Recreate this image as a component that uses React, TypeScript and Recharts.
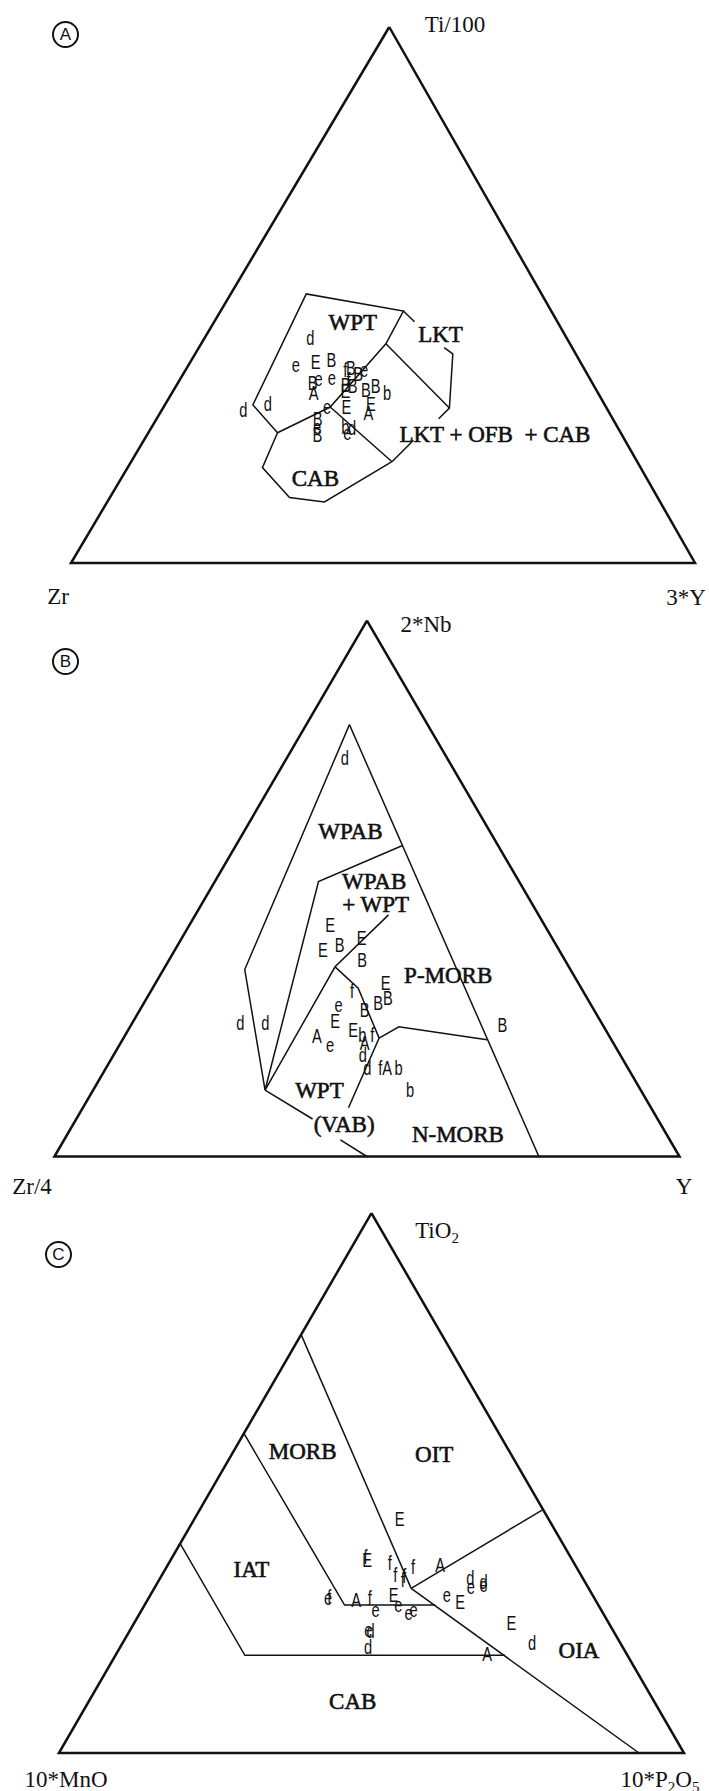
import { ScatterChart, Scatter, XAxis, YAxis } from 'recharts';

const PAGE_W = 709;

// ternary points are [top, right] in percent (left = 100 - top - right)
type Tern = [number, number];
type Sample = [string, number, number];

const OUTLINE: Tern[] = [[100, 0], [0, 0], [0, 100], [100, 0]];

// (A) Ti/100 - Zr - 3*Y
const A_FIELDS: Tern[][] = [
  [[24.3, 20.7], [29.5, 14.1], [50.2, 12.1], [47.0, 29.3], [40.9, 29.6], [29.1, 26.7], [24.3, 20.7]],
  [[40.9, 29.6], [28.9, 45.9]],
  [[29.1, 26.7], [18.9, 41.8]],
  [[24.3, 20.7], [17.8, 21.6], [12.2, 28.8], [11.4, 34.8], [18.9, 41.8]],
  [[47.0, 29.3], [45.0, 32.1]],
  [[40.2, 39.3], [39.0, 41.3], [28.9, 45.9], [26.9, 45.2]],
  [[18.9, 41.8], [22.9, 43.2]],
];
const A_LABELS: Sample[] = [
  ['WPT', 44.8, 22.3],
  ['LKT', 42.6, 37.5],
  ['LKT + OFB  + CAB', 24.0, 55.7],
  ['CAB', 15.8, 31.1],
];
const A_SAMPLES: Sample[] = [
  ['d', 41.9, 17.0], ['e', 36.9, 17.2], ['E', 37.5, 20.1], ['B', 37.9, 22.4],
  ['e', 34.5, 24.2], ['B', 33.6, 21.6], ['A', 31.7, 22.7], ['e', 34.3, 22.2],
  ['f', 36.0, 25.6], ['B', 36.4, 26.3], ['e', 36.0, 28.6], ['B', 35.3, 28.0],
  ['B', 33.2, 27.1], ['E', 32.1, 27.6], ['B', 33.0, 28.3], ['f', 34.1, 27.1],
  ['B', 32.3, 30.8], ['B', 33.0, 32.0], ['b', 31.7, 34.5], ['E', 29.1, 29.3],
  ['A', 28.0, 33.4], ['E', 29.7, 32.9], ['d', 28.5, 13.1], ['d', 29.7, 16.4],
  ['e', 29.1, 26.2], ['B', 26.9, 25.8], ['e', 25.4, 26.5], ['B', 23.9, 27.3],
  ['b', 25.4, 31.0], ['d', 25.2, 32.2], ['e', 24.3, 31.9],
];

// (B) 2*Nb - Zr/4 - Y
const B_FIELDS: Tern[][] = [
  [[80.6, 6.9], [34.9, 13.0], [12.4, 27.5]],
  [[80.6, 6.9], [0, 77.5]],
  [[58.0, 26.6], [51.3, 16.6], [12.4, 27.5]],
  [[45.1, 30.9], [35.4, 27.2], [12.4, 27.5]],
  [[35.4, 27.2], [31.4, 32.9], [22.1, 40.9], [9.1, 42.5]],
  [[22.1, 40.9], [24.2, 43.0], [21.8, 58.3]],
  [[12.4, 27.5], [7.0, 37.8]],
  [[3.1, 44.2], [0, 50.0]],
];
const B_LABELS: Sample[] = [
  ['WPAB', 60.7, 17.0],
  ['WPAB', 51.3, 25.5],
  ['+ WPT', 47.0, 27.9],
  ['P-MORB', 33.8, 46.1],
  ['WPT', 12.4, 36.2],
  ['(VAB)', 5.9, 43.4],
  ['N-MORB', 4.1, 62.5],
];
const B_SAMPLES: Sample[] = [
  ['d', 74.3, 9.3], ['E', 43.2, 22.5], ['E', 38.5, 23.7], ['B', 39.5, 25.9],
  ['E', 40.7, 28.8], ['B', 36.7, 30.9], ['E', 32.4, 36.8], ['B', 29.5, 38.6],
  ['B', 28.6, 37.5], ['B', 27.3, 36.0], ['f', 30.8, 32.2], ['e', 28.3, 31.3],
  ['E', 25.2, 32.3], ['d', 24.9, 17.3], ['d', 24.9, 21.3], ['E', 23.6, 36.0],
  ['b', 22.7, 37.9], ['f', 22.7, 39.5], ['A', 21.1, 39.1], ['A', 22.4, 30.8],
  ['e', 20.8, 33.7], ['d', 18.9, 39.9], ['d', 16.5, 41.8], ['f', 16.5, 43.9],
  ['A', 16.5, 45.0], ['b', 16.5, 46.8], ['b', 12.4, 50.7], ['B', 24.5, 59.4],
];

// (C) TiO2 - 10*MnO - 10*P2O5
const C_FIELDS: Tern[][] = [
  [[77.5, 0], [30.5, 41.1]],
  [[59.2, 0], [27.4, 32.0], [27.4, 46.5]],
  [[38.8, 0], [18.1, 20.7], [18.1, 62.3]],
  [[30.5, 41.1], [0, 92.8]],
  [[30.5, 41.1], [45.0, 54.8]],
];
const C_LABELS: Sample[] = [
  ['MORB', 55.8, 11.1],
  ['OIT', 55.3, 32.4],
  ['IAT', 34.0, 13.8],
  ['CAB', 9.6, 42.2],
  ['OIA', 19.0, 73.7],
];
const C_SAMPLES: Sample[] = [
  ['E', 43.4, 32.8], ['E', 35.8, 31.4], ['f', 36.3, 30.9], ['f', 35.1, 35.4],
  ['f', 33.0, 37.3], ['f', 32.0, 39.0], ['f', 32.7, 38.9], ['f', 34.5, 39.4],
  ['A', 34.8, 43.6], ['d', 32.4, 49.6], ['e', 30.8, 50.5], ['d', 31.7, 52.1],
  ['e', 31.1, 52.4], ['e', 29.3, 47.4], ['E', 28.0, 50.2], ['E', 24.0, 60.4],
  ['d', 20.4, 65.5], ['A', 18.4, 59.3], ['e', 28.7, 28.7], ['f', 28.9, 28.8],
  ['A', 28.3, 33.4], ['f', 28.7, 35.4], ['E', 29.3, 38.9], ['e', 27.4, 40.6],
  ['e', 26.5, 37.4], ['e', 25.9, 43.0], ['e', 26.5, 43.5], ['e', 22.8, 38.1],
  ['d', 22.5, 38.6], ['d', 19.7, 39.6],
];

type Frame = { top: number; height: number; x0: number; w: number; y0: number; h: number; apex: number };

const FRAME_A: Frame = { top: 0, height: 610, x0: 71, w: 624, y0: 563, h: 536, apex: 0.51 };
const FRAME_B: Frame = { top: 610, height: 600, x0: 54.4, w: 625.1, y0: 1156.5, h: 535.8, apex: 0.5 };
const FRAME_C: Frame = { top: 1210, height: 581, x0: 58.9, w: 625.1, y0: 1753, h: 539.8, apex: 0.5 };

const noDot = () => <g />;

const FieldLabel = (p: any) => (
  <text
    x={p.cx}
    y={p.cy}
    textAnchor="middle"
    dominantBaseline="central"
    fontFamily="'Liberation Serif', serif"
    fontSize={23}
    fill="#111"
    stroke="#111"
    strokeWidth={0.6}
    style={{ whiteSpace: 'pre' }}
  >
    {p.payload.t}
  </text>
);

const Letter = (p: any) => (
  <text
    transform={`translate(${p.cx},${p.cy}) scale(0.7,1)`}
    textAnchor="middle"
    dominantBaseline="central"
    fontFamily="'Liberation Sans', sans-serif"
    fontSize={21}
    fill="#111"
  >
    {p.payload.t}
  </text>
);

function Panel({ frame, fields, labels, samples }: {
  frame: Frame; fields: Tern[][]; labels: Sample[]; samples: Sample[];
}) {
  const toXY = ([top, right]: Tern) => ({ x: right + top * frame.apex, y: top });
  const toText = ([t, top, right]: Sample) => ({ ...toXY([top, right]), t });
  const xDomain = [-frame.x0 / frame.w * 100, (PAGE_W - frame.x0) / frame.w * 100];
  const yDomain = [
    (frame.y0 - frame.top - frame.height) / frame.h * 100,
    (frame.y0 - frame.top) / frame.h * 100,
  ];
  return (
    <div style={{ position: 'absolute', left: 0, top: frame.top }}>
      <ScatterChart width={PAGE_W} height={frame.height} margin={{ top: 0, right: 0, bottom: 0, left: 0 }}>
        <XAxis type="number" dataKey="x" domain={xDomain} allowDataOverflow hide />
        <YAxis type="number" dataKey="y" domain={yDomain} allowDataOverflow hide />
        <Scatter
          data={OUTLINE.map(toXY)}
          line={{ stroke: '#111', strokeWidth: 2.5, fill: 'none' }}
          shape={noDot}
          isAnimationActive={false}
        />
        {fields.map((f, i) => (
          <Scatter
            key={i}
            data={f.map(toXY)}
            line={{ stroke: '#111', strokeWidth: 1.5, fill: 'none' }}
            shape={noDot}
            isAnimationActive={false}
          />
        ))}
        <Scatter data={labels.map(toText)} shape={FieldLabel} isAnimationActive={false} />
        <Scatter data={samples.map(toText)} shape={Letter} isAnimationActive={false} />
      </ScatterChart>
    </div>
  );
}

const labelStyle = (x: number, y: number): React.CSSProperties => ({
  position: 'absolute',
  left: x,
  top: y,
  transform: 'translate(-50%, -50%)',
  fontFamily: "'Liberation Serif', serif",
  fontSize: 23,
  lineHeight: 1,
  color: '#111',
  whiteSpace: 'nowrap',
});

const subStyle: React.CSSProperties = { fontSize: 15, verticalAlign: -5, lineHeight: 0 };

const circleStyle = (x: number, y: number): React.CSSProperties => ({
  position: 'absolute',
  left: x - 13,
  top: y - 13,
  width: 23,
  height: 23,
  border: '2px solid #111',
  borderRadius: '50%',
  fontFamily: "'Liberation Sans', sans-serif",
  fontSize: 17,
  lineHeight: '23px',
  textAlign: 'center',
  color: '#111',
});

export default function App() {
  return (
    <div style={{ position: 'absolute', left: 0, top: 0, width: PAGE_W, height: 1791, background: '#fff' }}>
      <Panel frame={FRAME_A} fields={A_FIELDS} labels={A_LABELS} samples={A_SAMPLES} />
      <Panel frame={FRAME_B} fields={B_FIELDS} labels={B_LABELS} samples={B_SAMPLES} />
      <Panel frame={FRAME_C} fields={C_FIELDS} labels={C_LABELS} samples={C_SAMPLES} />

      <div style={circleStyle(65, 34)}>A</div>
      <div style={labelStyle(455, 24)}>Ti/100</div>
      <div style={labelStyle(58, 596)}>Zr</div>
      <div style={labelStyle(686, 597)}>3*Y</div>

      <div style={circleStyle(65, 661)}>B</div>
      <div style={labelStyle(426, 624)}>2*Nb</div>
      <div style={labelStyle(32, 1186)}>Zr/4</div>
      <div style={labelStyle(684, 1186)}>Y</div>

      <div style={circleStyle(58, 1254)}>C</div>
      <div style={labelStyle(437, 1230)}>TiO<sub style={subStyle}>2</sub></div>
      <div style={labelStyle(66, 1779)}>10*MnO</div>
      <div style={labelStyle(660, 1779)}>10*P<sub style={subStyle}>2</sub>O<sub style={subStyle}>5</sub></div>
    </div>
  );
}
